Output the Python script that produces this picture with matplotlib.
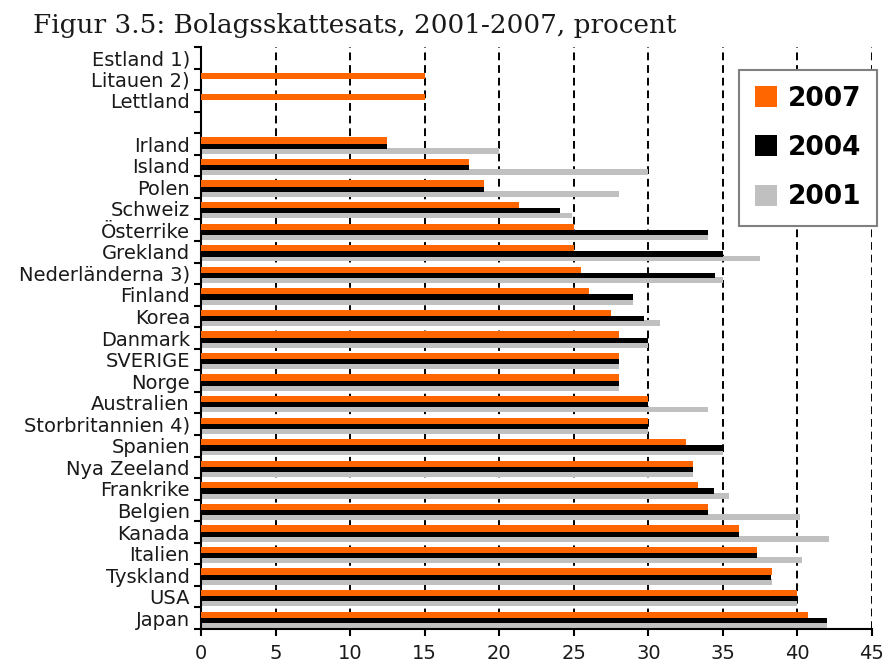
import numpy as np
import matplotlib
matplotlib.use("Agg")
import matplotlib.pyplot as plt
from matplotlib.ticker import FixedLocator, NullFormatter

# ---------------- data ----------------
countries = ["Estland 1)", "Litauen 2)", "Lettland", "",
             "Irland", "Island", "Polen", "Schweiz", "Österrike", "Grekland",
             "Nederländerna 3)", "Finland", "Korea", "Danmark", "SVERIGE",
             "Norge", "Australien", "Storbritannien 4)", "Spanien",
             "Nya Zeeland", "Frankrike", "Belgien", "Kanada", "Italien",
             "Tyskland", "USA", "Japan"]
nan = np.nan
rate_2007 = [0, 15, 15, nan, 12.5, 18, 19, 21.3, 25, 25, 25.5, 26, 27.5, 28,
             28, 28, 30, 30, 32.5, 33, 33.3, 34.0, 36.1, 37.3, 38.3, 40, 40.7]
rate_2004 = [nan, nan, nan, nan, 12.5, 18, 19, 24.1, 34, 35, 34.5, 29, 29.7,
             30, 28, 28, 30, 30, 35, 33, 34.4, 34.0, 36.1, 37.3, 38.2, 40, 42]
rate_2001 = [nan, nan, nan, nan, 20, 30, 28, 24.9, 34, 37.5, 35, 29, 30.8,
             30, 28, 28, 34, 30, 35, 33, 35.4, 40.2, 42.1, 40.3, 38.3, 40, 42]
years = ["2007", "2004", "2001"]
x_ticks = [0, 5, 10, 15, 20, 25, 30, 35, 40, 45]

# ---------------- styling ----------------
ORANGE = "#FF6600"
BLACK = "#000000"
GREY = "#C0C0C0"
W, H = 884, 663
fig = plt.figure(figsize=(W / 100, H / 100), dpi=100)
ax = fig.add_axes([201 / W, 1 - 629 / H, (872 - 201) / W, (629 - 47) / H])

pos = np.arange(len(countries))
ax.barh(pos + 0.18, rate_2001, height=0.27, align="edge", color=GREY,
        label=years[2], zorder=2)
ax.barh(pos - 0.02, rate_2004, height=0.24, align="edge", color=BLACK,
        label=years[1], zorder=3)
ax.barh(pos - 0.31, rate_2007, height=0.29, align="edge", color=ORANGE,
        label=years[0], zorder=4)

ax.set_xlim(0, 45)
ax.set_ylim(len(countries) - 0.5, -0.5)

# y axis: labels at row centres, tick marks at row boundaries
ax.set_yticks(pos)
ax.set_yticklabels(countries)
ax.yaxis.set_minor_locator(FixedLocator(np.arange(len(countries) + 1) - 0.5))
ax.yaxis.set_minor_formatter(NullFormatter())
ax.tick_params(axis="y", which="major", length=0, pad=8,
               labelsize=14, labelcolor="#1a1a1a")
ax.tick_params(axis="y", which="minor", length=5, width=1.5,
               direction="out", color="black")

ax.set_xticks(x_ticks)
ax.tick_params(axis="x", which="major", length=5, width=1.5, direction="out",
               pad=6, labelsize=14, labelcolor="#1a1a1a")

for s in ["top", "right"]:
    ax.spines[s].set_visible(False)
for s in ["left", "bottom"]:
    ax.spines[s].set_linewidth(1.5)
    ax.spines[s].set_color("black")

ax.xaxis.grid(True, color="black", linewidth=1.4, linestyle=(0, (4, 2.5)),
              zorder=1)
ax.set_axisbelow(True)

# legend
handles, labels = ax.get_legend_handles_labels()
order = [labels.index(y) for y in years]
leg = ax.legend([handles[i] for i in order], [labels[i] for i in order],
                loc="upper right",
                bbox_to_anchor=(877 / W, 1 - 70 / H),
                bbox_transform=fig.transFigure, borderaxespad=0,
                prop={"family": "DejaVu Sans", "weight": "bold", "size": 19},
                handlelength=0.84, handleheight=0.84, handletextpad=0.4,
                labelspacing=0.88, borderpad=0.6, fancybox=False,
                framealpha=1, edgecolor="#808080")
leg.get_frame().set_linewidth(1.5)
leg.set_zorder(10)

fig.text(33 / W, 1 - 33 / H, "Figur 3.5: Bolagsskattesats, 2001-2007, procent",
         family="DejaVu Serif", fontsize=18.9, color="#1a1a1a", va="baseline",
         ha="left")

fig.savefig("out.png", dpi=100)
